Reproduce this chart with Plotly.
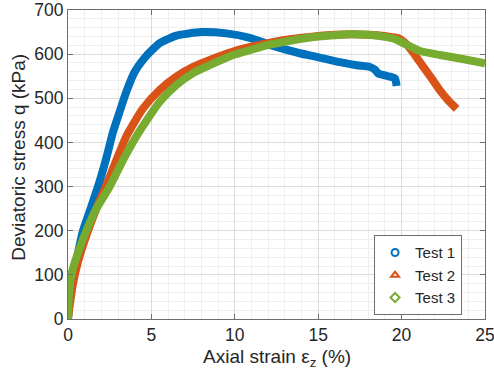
import plotly.graph_objects as go

# Test 1
strain1 = [0, 0.1, 0.3, 0.55, 0.9, 1.4, 1.9, 2.3, 2.7, 3.1, 3.5, 4.0, 4.6, 5.0, 5.5, 6.5, 8, 9.5, 10.9,
           12.1, 13.9, 14.9, 16.3, 17.3, 18.1, 18.4, 18.6, 18.9, 19.3, 19.6, 19.7]
stress1 = [0, 40, 90, 140, 200, 255, 312, 365, 424, 470, 515, 560, 592, 608, 625, 642, 650, 647, 637,
           621, 602, 594, 582, 575, 571, 565, 556, 553, 549, 545, 528]

# Test 2
strain2 = [0, 0.1, 0.3, 0.6, 1.2, 1.7, 2.3, 2.9, 3.5, 4.5, 5.5, 6.5, 7.5, 8.5, 9.9, 11, 12, 13, 14, 15, 16,
           17, 18, 19, 19.8, 20.3, 20.8, 21.3, 21.8, 22.3, 22.8, 23.3]
stress2 = [0, 30, 80, 130, 200, 250, 303, 360, 414, 477, 519, 549, 571, 587, 606, 617, 625, 632, 637, 641,
           644, 645, 644, 641, 636, 622, 598, 571, 545, 518, 495, 476]

# Test 3
strain3 = [0, 0.05, 0.15, 0.3, 0.6, 1.1, 1.7, 2.5, 3.3, 4.15, 5.5, 6.5, 7.5, 8.5, 9.9, 11, 11.9, 13, 14, 15,
           16, 17, 18, 19, 19.6, 20.1, 20.6, 21.1, 22.3, 23.5, 25]
stress3 = [0, 50, 90, 115, 150, 200, 250, 300, 360, 417, 492, 530, 557, 575, 598, 610, 620, 628, 635, 640,
           643, 645, 644, 639, 634, 625, 616, 607, 598, 590, 579]

names = ["Test 1", "Test 2", "Test 3"]
colors = ["#0072BD", "#D95319", "#77AC30"]
symbols = ["circle-open", "triangle-up-open", "diamond-open"]
series = [(strain1, stress1), (strain2, stress2), (strain3, stress3)]

x_ticks = [0, 5, 10, 15, 20, 25]
y_ticks = [0, 100, 200, 300, 400, 500, 600, 700]
x_title = "Axial strain ε<sub>z</sub> (%)"
y_title = "Deviatoric stress q (kPa)"

FONT = "Liberation Sans, Arial, sans-serif"
TXT = "#262626"

fig = go.Figure()
for (xs, ys), c in zip(series, colors):
    fig.add_trace(go.Scatter(x=xs, y=ys, mode="lines", showlegend=False,
                             line=dict(color=c, width=8, shape="spline", smoothing=0.6),
                             hoverinfo="skip"))
for n, c, s in zip(names, colors, symbols):
    fig.add_trace(go.Scatter(x=[None], y=[None], mode="markers", name=n,
                             marker=dict(symbol=s, size=7, color=c, line=dict(color=c, width=2))))

axis_common = dict(
    showline=True, linecolor="#6e6e6e", linewidth=1, mirror="ticks",
    ticks="inside", ticklen=5, tickcolor="#6e6e6e",
    showgrid=True, gridcolor="#dcdcdc", gridwidth=1, zeroline=False,
    tickfont=dict(family=FONT, size=17.5, color=TXT),
    automargin=False, ticklabeloverflow="allow",
)

fig.update_xaxes(range=[0, 25], tickvals=x_ticks, ticktext=[str(v) for v in x_ticks],
                 minor=dict(dtick=1, showgrid=True, gridcolor="#efefef", ticks=""),
                 **axis_common)
fig.update_yaxes(range=[0, 700], tickvals=y_ticks, ticktext=[str(v) for v in y_ticks],
                 minor=dict(dtick=20, showgrid=True, gridcolor="#efefef", ticks=""),
                 **axis_common)

fig.add_annotation(text=x_title, xref="paper", yref="paper", x=0.5, y=-0.127,
                   xanchor="center", yanchor="middle", showarrow=False,
                   font=dict(family=FONT, size=19, color=TXT))
fig.add_annotation(text=y_title, xref="paper", yref="paper", x=-0.119, y=0.523,
                   xanchor="center", yanchor="middle", showarrow=False, textangle=-90,
                   font=dict(family=FONT, size=19, color=TXT))

fig.update_layout(
    width=494, height=380,
    margin=dict(l=68, r=9, t=10, b=61),
    plot_bgcolor="white", paper_bgcolor="white",
    legend=dict(x=0.945, y=0.012, xanchor="right", yanchor="bottom",
                bgcolor="white", bordercolor="#6e6e6e", borderwidth=1,
                font=dict(family=FONT, size=15, color=TXT),
                itemwidth=30, tracegroupgap=0),
)

fig.write_html("out.html", config={"displayModeBar": False},
               post_script="document.body.style.margin='0';document.body.style.padding='0';"
                           "document.body.style.overflow='hidden';")
